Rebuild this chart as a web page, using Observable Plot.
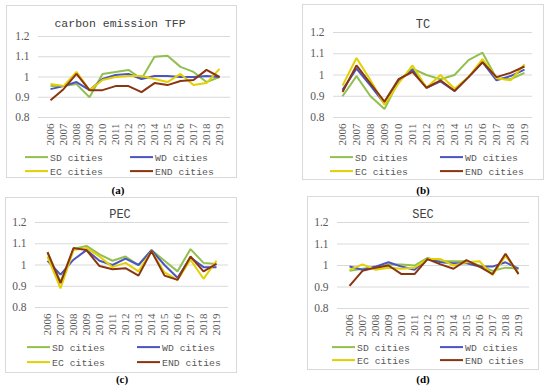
<!DOCTYPE html>
<html><head><meta charset="utf-8">
<script src="https://cdn.jsdelivr.net/npm/d3@7"></script>
<script src="https://cdn.jsdelivr.net/npm/@observablehq/plot@0.6"></script>
<style>
html,body{margin:0;padding:0;background:#fff;}
body{width:550px;height:389px;position:relative;overflow:hidden;font-family:'Liberation Serif','DejaVu Serif',serif;}
.box{position:absolute;border:1px solid #d9d9d9;box-sizing:border-box;}
.chart{position:absolute;}
.ttl{position:absolute;font-family:'Liberation Mono','DejaVu Sans Mono',monospace;color:#404040;white-space:nowrap;transform:translate(-50%,-50%);line-height:1;}
.leg{position:absolute;font-family:'Liberation Mono','DejaVu Sans Mono',monospace;font-size:9.8px;color:#595959;white-space:nowrap;line-height:1;transform:translateY(-50%);}
.sw{display:inline-block;width:23px;height:2px;vertical-align:middle;margin-right:2px;position:relative;top:-1px;}
.cap{position:absolute;font-family:'Liberation Serif','DejaVu Serif',serif;font-weight:bold;font-size:11px;color:#000;transform:translate(-50%,-50%);line-height:1;}
</style></head>
<body>
<script>
const years = ["2006","2007","2008","2009","2010","2011","2012","2013","2014","2015","2016","2017","2018","2019"];
const seriesNames = ["SD cities","WD cities","EC cities","END cities"];
const seriesColors = ["#92c050","#4a55c2","#e2d000","#8a3510"];
const yTicks = [0.8, 0.9, 1, 1.1, 1.2];
const panelTitles = ["carbon emission TFP","TC","PEC","SEC"];
const panelCaptions = ["(a)","(b)","(c)","(d)"];

// (a) carbon emission TFP
const tfpSD  = [0.955,0.955,0.965,0.900,1.015,1.025,1.035,0.990,1.100,1.105,1.050,1.025,0.975,1.000];
const tfpWD  = [0.940,0.955,0.975,0.935,0.990,1.010,1.015,0.990,1.005,1.005,1.000,1.000,1.005,1.000];
const tfpEC  = [0.965,0.955,1.025,0.935,0.985,1.000,1.005,1.005,0.990,0.975,1.015,0.960,0.970,1.040];
const tfpEND = [0.885,0.940,1.015,0.935,0.935,0.955,0.955,0.925,0.970,0.960,0.980,0.985,1.035,1.000];
// (b) TC
const tcSD  = [0.900,0.995,0.900,0.840,0.970,1.030,1.000,0.980,1.000,1.070,1.105,0.985,0.980,1.010];
const tcWD  = [0.930,1.030,0.950,0.865,0.975,1.025,0.940,0.970,0.925,0.990,1.060,0.975,0.995,1.025];
const tcEC  = [0.950,1.080,0.975,0.860,0.960,1.045,0.940,1.000,0.935,0.990,1.075,0.985,0.975,1.050];
const tcEND = [0.920,1.045,0.960,0.875,0.980,1.015,0.940,0.975,0.925,0.990,1.060,0.990,1.010,1.040];
// (c) PEC
const pecSD  = [1.060,0.920,1.075,1.090,1.050,1.020,1.040,1.000,1.070,1.020,0.970,1.075,1.010,1.005];
const pecWD  = [1.020,0.955,1.025,1.070,1.020,1.000,1.030,1.000,1.070,1.000,0.940,1.035,0.990,0.990];
const pecEC  = [1.040,0.890,1.070,1.080,1.040,0.990,1.010,0.970,1.065,0.965,0.930,1.025,0.935,1.020];
const pecEND = [1.060,0.915,1.080,1.070,0.995,0.980,0.985,0.950,1.065,0.950,0.930,1.040,0.970,1.005];
// (d) SEC
const secSD  = [0.975,0.985,0.990,1.005,1.005,1.000,1.035,1.020,1.020,1.020,1.000,0.975,0.990,0.985];
const secWD  = [0.995,0.980,0.995,1.015,0.995,0.980,1.030,1.015,1.010,1.010,0.995,0.995,1.015,0.985];
const secEC  = [0.980,1.005,0.980,0.990,0.985,0.990,1.030,1.030,1.000,1.015,1.020,0.955,1.045,0.965];
const secEND = [0.905,0.975,0.990,1.000,0.960,0.960,1.030,1.005,0.985,1.025,0.995,0.960,1.055,0.960];

const panelSeries = [
  [tfpSD, tfpWD, tfpEC, tfpEND],
  [tcSD, tcWD, tcEC, tcEND],
  [pecSD, pecWD, pecEC, pecEND],
  [secSD, secWD, secEC, secEND]
];

// layout (page px)
const layouts = [
  {l:6,   t:5,   r:237, b:178, x0:38,  x1:230, yTop:36,  yBot:117, tx:120, ty:24,  tfs:11.5, r1:159, r2:173, c1:25,  c2:130, cx:118, cy:190},
  {l:302, t:4,   r:544, b:180, x0:333, x1:532, yTop:32,  yBot:117, tx:423, ty:25,  tfs:12,   r1:159, r2:173, c1:330, c2:440, cx:423, cy:190},
  {l:5,   t:197, r:237, b:373, x0:35,  x1:228, yTop:222, yBot:307, tx:120, ty:215, tfs:12,   r1:349, r2:364, c1:27,  c2:137, cx:122, cy:379},
  {l:307, t:196, r:539, b:370, x0:337, x1:529, yTop:222, yBot:308, tx:423, ty:215, tfs:12,   r1:349, r2:362, c1:332, c2:440, cx:423, cy:379}
];

function el(cls, styles, html) {
  const d = document.createElement("div");
  d.className = cls;
  Object.assign(d.style, styles);
  if (html !== undefined) d.innerHTML = html;
  document.body.appendChild(d);
  return d;
}

layouts.forEach((L, p) => {
  el("box", {left: L.l + "px", top: L.t + "px", width: (L.r - L.l) + "px", height: (L.b - L.t) + "px"});
  const data = [];
  panelSeries[p].forEach((arr, s) => arr.forEach((v, i) => data.push({year: years[i], value: v, series: seriesNames[s]})));
  const W = L.r - L.l, H = L.b - L.t;
  const chart = Plot.plot({
    width: W, height: H,
    marginLeft: L.x0 - L.l, marginRight: L.r - L.x1,
    marginTop: L.yTop - L.t, marginBottom: L.b - L.yBot,
    style: {fontFamily: "'Liberation Serif','DejaVu Serif',serif", color: "#595959", background: "transparent", overflow: "visible"},
    x: {type: "point", domain: years, padding: 0.5},
    y: {domain: [0.8, 1.2]},
    color: {domain: seriesNames, range: seriesColors},
    marks: [
      Plot.gridY(yTicks, {stroke: "#d9d9d9", strokeOpacity: 1, strokeWidth: 1}),
      Plot.axisY(yTicks, {tickSize: 0, tickPadding: 9, fontSize: 11.5, label: null, tickFormat: d => String(d)}),
      Plot.axisX({tickSize: 0, tickRotate: -90, tickPadding: 6, fontSize: 11, label: null}),
      Plot.line(data, {x: "year", y: "value", z: "series", stroke: "series", strokeWidth: 2, strokeLinejoin: "miter", strokeLinecap: "butt"})
    ]
  });
  chart.classList.add("chart");
  chart.style.left = L.l + "px";
  chart.style.top = L.t + "px";
  document.body.appendChild(chart);
  el("ttl", {left: L.tx + "px", top: L.ty + "px", fontSize: L.tfs + "px"}, panelTitles[p]);
  const pos = [[L.c1, L.r1], [L.c2, L.r1], [L.c1, L.r2], [L.c2, L.r2]];
  seriesNames.forEach((name, s) => {
    el("leg", {left: pos[s][0] + "px", top: pos[s][1] + "px"},
      `<span class="sw" style="background:${seriesColors[s]}"></span>${name}`);
  });
  el("cap", {left: L.cx + "px", top: L.cy + "px"}, panelCaptions[p]);
});
</script>
</body></html>
